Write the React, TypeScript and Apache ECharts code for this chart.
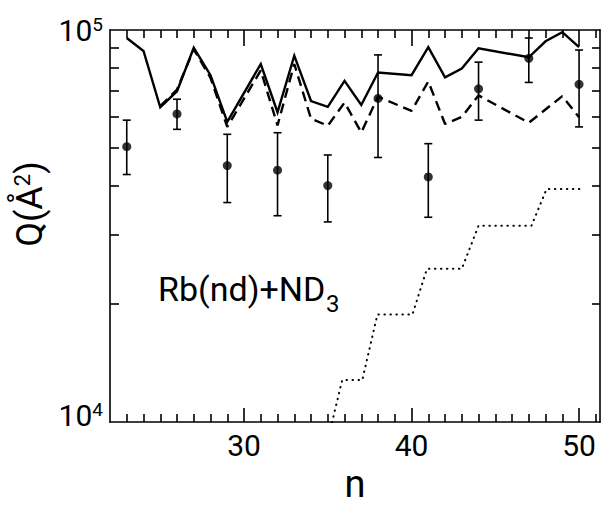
import { useEffect, useRef } from 'react';
import * as echarts from 'echarts';

// ---- data ----
const nSolid = [23, 24, 25, 26, 27, 28, 29, 31, 32, 33, 34, 35, 36, 37, 38, 40, 41, 42, 43, 44, 47, 48, 49, 50];
const qSolid = [95400, 88400, 63500, 69800, 90100, 76700, 58300, 81900, 61700, 86000, 65900, 63700, 74200, 64400, 77900, 76700, 90400, 75700, 79700, 89800, 85200, 93600, 98700, 90400];

const nDashed = [25, 26, 27, 28, 29, 31, 32, 33, 34, 35, 36, 37, 38, 40, 41, 42, 43, 44, 47, 49, 50];
const qDashed = [64000, 70500, 89300, 75500, 56600, 78900, 57100, 81900, 59400, 57000, 65300, 54800, 67600, 62200, 73900, 57600, 60000, 68100, 58000, 67800, 59900];

const nDotted = [35.0, 35.86, 37.06, 37.96, 40.05, 40.92, 43.0, 44.0, 47.16, 48.06, 50.2];
const qDotted = [9000, 12800, 12800, 18800, 18800, 24600, 24600, 31700, 31700, 39300, 39300];

const nExp = [23, 26, 29, 32, 35, 38, 41, 44, 47, 50];
const qExp = [50400, 61100, 45100, 43900, 40100, 66900, 42200, 70800, 84700, 72700];
const qExpHi = [58900, 66600, 54200, 54700, 48000, 86400, 51300, 82800, 95400, 88900];
const qExpLo = [42800, 55800, 36300, 33600, 32400, 47300, 33300, 58900, 73500, 56600];

const xMinorTicks = [23, 24, 25, 26, 27, 28, 29, 31, 32, 33, 34, 35, 36, 37, 38, 39, 41, 42, 43, 44, 45, 46, 47, 48, 49, 51];
const xMajorTicks = [30, 40, 50];
const yMinorTicks = [20000, 30000, 40000, 50000, 60000, 70000, 80000, 90000];
const yLabelTicks = [10000, 100000];

const FONT = "Roboto, 'Liberation Sans', sans-serif";
const AX = { color: '#000', width: 1.6 };

export default function App() {
  const ref = useRef<HTMLDivElement>(null);
  useEffect(() => {
    const chart = echarts.init(ref.current!, null, { renderer: 'svg' });
    const xBase = { type: 'value', min: 22, max: 51.25, splitLine: { show: false }, gridIndex: 0 };
    const yBase = { type: 'log', logBase: 10, min: 10000, max: 100000, splitLine: { show: false }, minorSplitLine: { show: false } };
    const option: any = {
      animation: false,
      backgroundColor: '#fff',
      grid: { left: 110, right: 4, top: 30, bottom: 74, containLabel: false },
      xAxis: [
        {
          ...xBase, position: 'bottom',
          axisLine: { show: true, onZero: false, lineStyle: AX },
          axisTick: { show: true, inside: true, length: 8, customValues: xMinorTicks, lineStyle: AX },
          axisLabel: { show: true, customValues: xMajorTicks, margin: 8, color: '#000', fontSize: 30, lineHeight: 30, fontFamily: FONT },
          name: 'n', nameLocation: 'middle', nameGap: 40,
          nameTextStyle: { color: '#000', fontSize: 38, lineHeight: 38, fontFamily: FONT },
        },
        {
          ...xBase, position: 'bottom',
          axisLine: { show: false, onZero: false },
          axisTick: { show: true, inside: true, length: 14, customValues: xMajorTicks, lineStyle: AX },
          axisLabel: { show: false },
        },
        {
          ...xBase, position: 'top',
          axisLine: { show: true, onZero: false, lineStyle: AX },
          axisTick: { show: true, inside: true, length: 8, customValues: xMinorTicks, lineStyle: AX },
          axisLabel: { show: false },
        },
        {
          ...xBase, position: 'top',
          axisLine: { show: false, onZero: false },
          axisTick: { show: true, inside: true, length: 16, customValues: xMajorTicks, lineStyle: AX },
          axisLabel: { show: false },
        },
      ],
      yAxis: [
        {
          ...yBase, position: 'left',
          axisLine: { show: true, onZero: false, lineStyle: AX },
          axisTick: { show: true, inside: true, length: 9, customValues: yMinorTicks, lineStyle: AX },
          axisLabel: {
            show: true, customValues: yLabelTicks, margin: 7,
            formatter: (v: number) => (v < 50000 ? '{b|10}{s|4}\n{e| }' : '{b|10}{s|5}'),
            rich: {
              b: { fontSize: 30, lineHeight: 30, fontFamily: FONT, color: '#000', verticalAlign: 'bottom' },
              s: { fontSize: 19, lineHeight: 10, fontFamily: FONT, color: '#000', verticalAlign: 'top' },
              e: { fontSize: 4, lineHeight: 14, fontFamily: FONT, color: '#000' },
            },
          },
          name: '{q|Q(Å}{s|2}{q|)}', nameLocation: 'middle', nameRotate: 90, nameGap: 54,
          nameTextStyle: {
            padding: [0, 0, 0, 44],
            rich: {
              q: { fontSize: 36, lineHeight: 36, fontFamily: FONT, color: '#000', verticalAlign: 'bottom' },
              s: { fontSize: 22, lineHeight: 12, fontFamily: FONT, color: '#000', verticalAlign: 'top' },
            },
          },
        },
        {
          ...yBase, position: 'right',
          axisLine: { show: true, onZero: false, lineStyle: AX },
          axisTick: { show: true, inside: true, length: 8, customValues: yMinorTicks, lineStyle: AX },
          axisLabel: { show: false },
        },
      ],
      graphic: [
        {
          type: 'text', x: 158, y: 289.4,
          style: { text: 'Rb(nd)+ND', fontSize: 34, fontFamily: FONT, fill: '#000', align: 'left', verticalAlign: 'middle' },
        },
        {
          type: 'text', x: 326, y: 303.8,
          style: { text: '3', fontSize: 24, fontFamily: FONT, fill: '#000', align: 'left', verticalAlign: 'middle' },
        },
      ],
      series: [
        {
          type: 'line', xAxisIndex: 0, yAxisIndex: 0, symbol: 'none', z: 3,
          data: nSolid.map((n, i) => [n, qSolid[i]]),
          lineStyle: { color: '#000', width: 2.4, join: 'miter' },
        },
        {
          type: 'line', xAxisIndex: 0, yAxisIndex: 0, symbol: 'none', z: 3,
          data: nDashed.map((n, i) => [n, qDashed[i]]),
          lineStyle: { color: '#000', width: 2.4, type: [10, 6] },
        },
        {
          type: 'line', xAxisIndex: 0, yAxisIndex: 0, symbol: 'none', z: 3,
          data: nDotted.map((n, i) => [n, qDotted[i]]),
          lineStyle: { color: '#000', width: 2, type: [0.5, 5.5], cap: 'round' },
        },
        {
          type: 'custom', xAxisIndex: 0, yAxisIndex: 0, z: 4,
          data: nExp.map((n, i) => [n, qExp[i], qExpLo[i], qExpHi[i]]),
          renderItem: (params: any, api: any) => {
            const n = api.value(0);
            const lo = api.coord([n, api.value(2)]);
            const hi = api.coord([n, api.value(3)]);
            const st = { stroke: '#000', lineWidth: 1.6 };
            return {
              type: 'group',
              children: [
                { type: 'line', shape: { x1: lo[0], y1: lo[1], x2: hi[0], y2: hi[1] }, style: st },
                { type: 'line', shape: { x1: lo[0] - 4, y1: lo[1], x2: lo[0] + 4, y2: lo[1] }, style: st },
                { type: 'line', shape: { x1: hi[0] - 4, y1: hi[1], x2: hi[0] + 4, y2: hi[1] }, style: st },
              ],
            };
          },
        },
        {
          type: 'scatter', xAxisIndex: 0, yAxisIndex: 0, z: 5,
          symbol: 'circle', symbolSize: 9,
          itemStyle: { color: '#000' },
          data: nExp.map((n, i) => [n, qExp[i]]),
        },
      ],
    };
    chart.setOption(option);
    return () => chart.dispose();
  }, []);
  return <div ref={ref} style={{ position: 'fixed', left: 0, top: 0, width: 604, height: 508 }} />;
}
